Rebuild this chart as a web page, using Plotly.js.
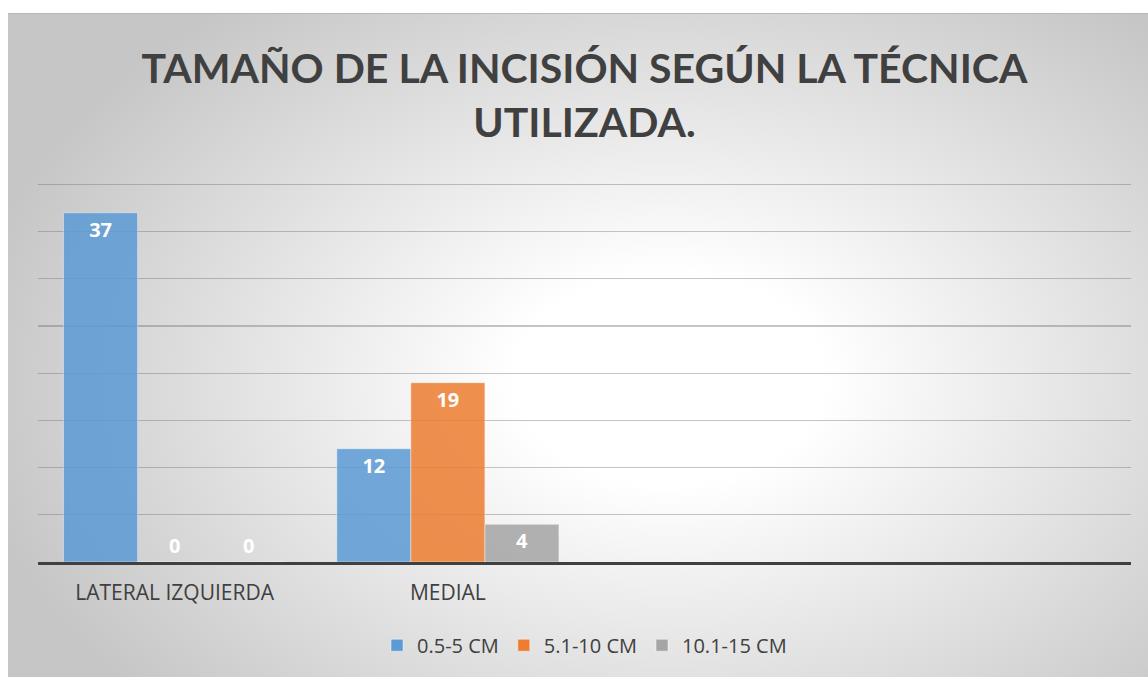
<!DOCTYPE html>
<html>
<head>
<meta charset="utf-8">
<script src="https://cdn.plot.ly/plotly-3.0.1.min.js"></script>
<style>
  html, body { margin: 0; padding: 0; background: #ffffff; width: 1148px; height: 677px; overflow: hidden; }
  #bg { position: absolute; left: 8px; top: 13px; width: 1140px; height: 664px;
        border-top: 1px solid #b9b9b9; box-sizing: border-box;
        background: radial-gradient(ellipse 62% 72% at 58% 55%, #ffffff 0%, #ffffff 22%, #c6c6c6 100%); }
  #chart { position: absolute; left: 0; top: 0; width: 1148px; height: 677px; }
</style>
</head>
<body>
<div id="bg"></div>
<div id="chart"></div>
<script>
const categories = ["LATERAL IZQUIERDA", "MEDIAL"];
const seriesNames = ["0.5-5 CM", "5.1-10 CM", "10.1-15 CM"];
const values_05_5 = [37, 12];
const values_51_10 = [0, 19];
const values_101_15 = [0, 4];
const chartTitle = "TAMAÑO DE LA INCISIÓN SEGÚN LA TÉCNICA<br>UTILIZADA.";

const colors = ["#5b9bd5", "#ed7d31", "#a5a5a5"];
const allValues = [values_05_5, values_51_10, values_101_15];
const labelFont = { family: "Open Sans, sans-serif", size: 20, color: "#ffffff", weight: 700 };

const traces = allValues.map((vals, i) => ({
  type: "bar",
  name: seriesNames[i],
  x: categories,
  y: vals,
  text: vals.map(v => String(v)),
  textposition: vals.map(v => v > 0 ? "inside" : "outside"),
  insidetextanchor: "end",
  textangle: 0,
  cliponaxis: false,
  textfont: labelFont,
  outsidetextfont: labelFont,
  insidetextfont: labelFont,
  marker: { color: colors[i], opacity: 0.85, line: { color: "rgba(255,255,255,0.45)", width: 1 } },
  hoverinfo: "x+y+name"
}));

const layout = {
  width: 1148,
  height: 677,
  paper_bgcolor: "rgba(0,0,0,0)",
  plot_bgcolor: "rgba(0,0,0,0)",
  margin: { l: 38, r: 17, t: 175, b: 115 },
  barmode: "group",
  bargap: 0.187,
  bargroupgap: 0,
  showlegend: true,
  title: {
    text: chartTitle,
    font: { family: "Lato, Open Sans, sans-serif", size: 41, color: "#404040", weight: 700 },
    x: 0.5, xref: "paper", xanchor: "center",
    y: 0.877, yref: "container", yanchor: "middle"
  },
  xaxis: {
    type: "category",
    range: [-0.5, 3.5],
    showline: true, linecolor: "#404040", linewidth: 3,
    showgrid: false, zeroline: false,
    ticks: "outside", ticklen: 10, tickcolor: "rgba(0,0,0,0)",
    tickfont: { family: "Open Sans, sans-serif", size: 21, color: "#404040" },
    fixedrange: true
  },
  yaxis: {
    range: [0, 41],
    tickvals: [5, 10, 15, 20, 25, 30, 35, 40],
    showgrid: true, gridcolor: "rgba(110,110,110,0.4)", gridwidth: 1.3,
    zeroline: false, showticklabels: false, showline: false,
    fixedrange: true
  },
  legend: {
    orientation: "h",
    x: 0.5, xanchor: "center",
    y: -0.215, yanchor: "middle",
    font: { family: "Open Sans, sans-serif", size: 20, color: "#404040" },
    bgcolor: "rgba(0,0,0,0)",
    itemwidth: 30,
    traceorder: "normal"
  }
};

Plotly.newPlot("chart", traces, layout, { displayModeBar: false, staticPlot: true });
</script>
</body>
</html>
